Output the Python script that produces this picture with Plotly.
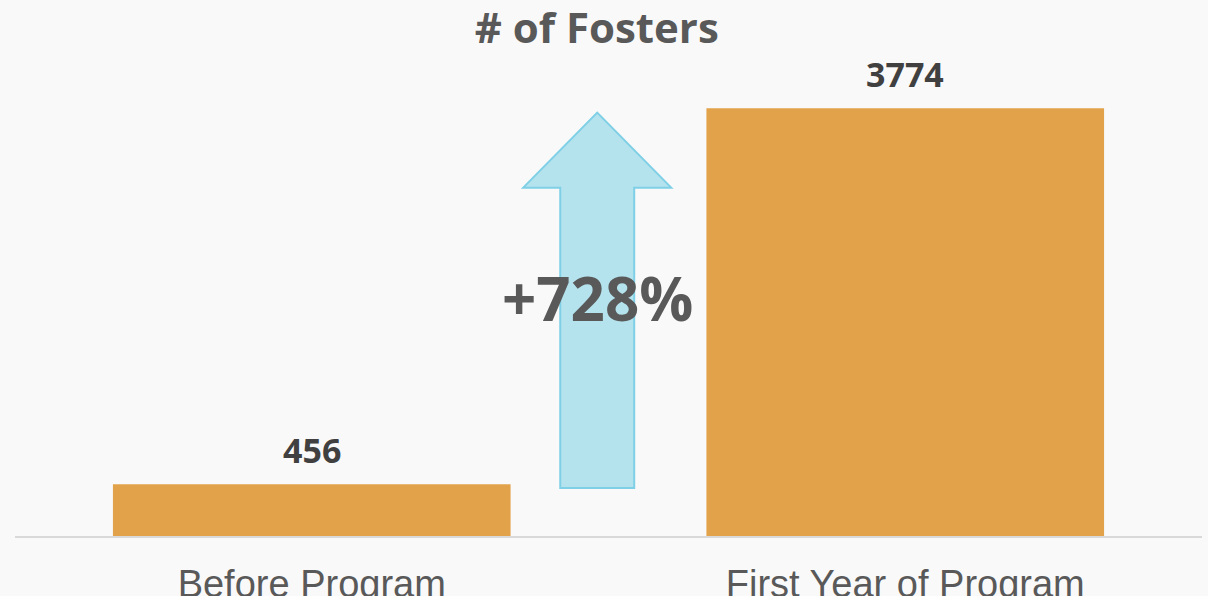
import plotly.graph_objects as go

categories = ["Before Program", "First Year of Program"]
fosters = [456, 3774]
title_text = "# of Fosters"

bar_color = "#E1A24A"
arrow_fill = "#B4E3EE"
arrow_line = "#7FD0E6"
bg = "#f9f9f9"

x_pos = list(range(len(categories)))
pct = round((fosters[1] - fosters[0]) / fosters[0] * 100)

fig = go.Figure()
fig.add_trace(go.Bar(
    x=x_pos, y=fosters, width=0.67, marker=dict(color=bar_color, line=dict(width=0)),
    hoverinfo="skip", showlegend=False,
))

# value labels
for xi, v in zip(x_pos, fosters):
    fig.add_annotation(x=xi, y=v, text=f"<b>{v}</b>", showarrow=False, yanchor="bottom",
                       yshift=9, font=dict(family="Open Sans", size=34, color="#404040"))

# arrow between the two bars
ax = 0.481
sh = 0.0623
hh = 0.1247
y_bot = fosters[0] * 0.93
y_tip = fosters[1] * 0.99
y_head = y_bot + (y_tip - y_bot) * 0.80
path = (f"M {ax-sh},{y_bot} L {ax-sh},{y_head} L {ax-hh},{y_head} L {ax},{y_tip} "
        f"L {ax+hh},{y_head} L {ax+sh},{y_head} L {ax+sh},{y_bot} Z")
fig.add_shape(type="path", path=path, xref="x", yref="y", fillcolor=arrow_fill,
              line=dict(color=arrow_line, width=2), layer="above")

fig.add_annotation(x=ax, y=2100, text=f"<b>+{pct}%</b>", showarrow=False,
                   font=dict(family="Open Sans", size=60, color="#595959"))

fig.update_layout(
    width=1208, height=596,
    margin=dict(l=15, r=6, t=60, b=60),
    paper_bgcolor=bg, plot_bgcolor=bg,
    title=dict(text=f"<b>{title_text}</b>", x=0.494, xanchor="center", y=1 - 28 / 596,
               yanchor="middle", yref="container",
               font=dict(family="Open Sans", size=42, color="#595959")),
    xaxis=dict(range=[-0.5, 1.5], tickvals=x_pos, ticktext=categories, showgrid=False,
               zeroline=False, showline=True, linecolor="#d9d9d9", linewidth=2,
               tickfont=dict(family="Liberation Sans", size=38, color="#595959"),
               ticks="", ticklabelstandoff=13, automargin=False),
    yaxis=dict(range=[0, 4200], visible=False, showgrid=False, zeroline=False,
               automargin=False),
    bargap=0.33,
)

fig.write_html(
    "out.html",
    config={"displayModeBar": False},
    post_script=("document.body.style.margin='0';"
                 "document.body.style.overflow='hidden';"
                 "document.documentElement.style.overflow='hidden';"),
)
